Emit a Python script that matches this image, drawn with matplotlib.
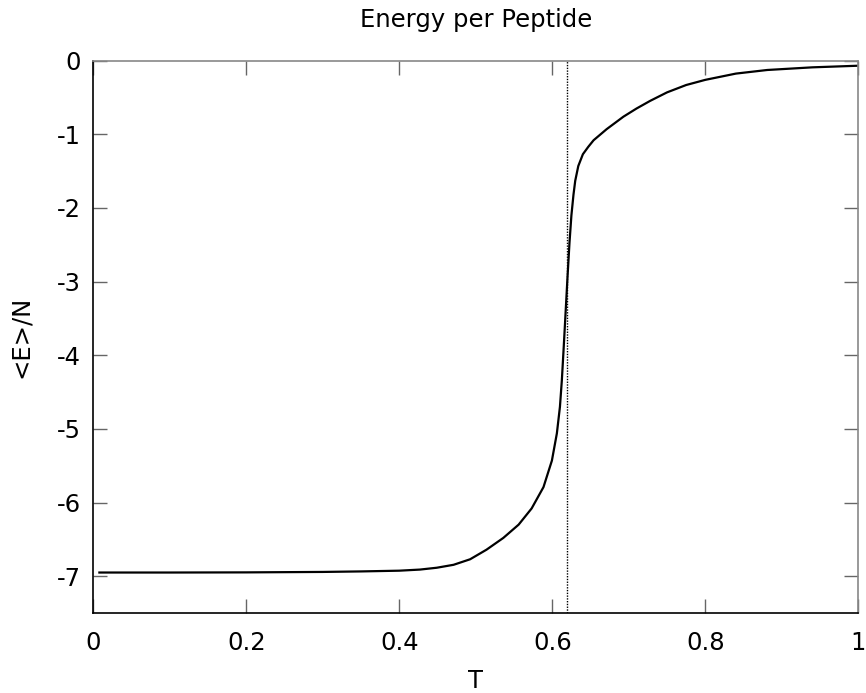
import matplotlib
matplotlib.use("Agg")
import matplotlib.pyplot as plt

# dane (T, <E>/N)
T = [0.008, 0.1, 0.2, 0.3, 0.35, 0.4, 0.427, 0.449, 0.471, 0.4926, 0.514,
     0.536, 0.556, 0.573, 0.5885, 0.5995, 0.606, 0.610, 0.6125, 0.615,
     0.6175, 0.620, 0.6225, 0.625, 0.6277, 0.630, 0.634, 0.640, 0.647, 0.654,
     0.671, 0.693, 0.71, 0.728, 0.75, 0.775, 0.80, 0.84, 0.881, 0.94, 1.0]
E = [-6.95, -6.95, -6.948, -6.942, -6.935, -6.925, -6.91, -6.885, -6.845, -6.77, -6.64,
     -6.48, -6.30, -6.08, -5.79, -5.43, -5.06, -4.70, -4.34, -3.88,
     -3.40, -2.92, -2.47, -2.10, -1.82, -1.63, -1.43, -1.27, -1.17, -1.08,
     -0.93, -0.76, -0.65, -0.545, -0.43, -0.33, -0.26, -0.175, -0.126, -0.09, -0.068]
T_c = 0.6195

xticks = [0, 0.2, 0.4, 0.6, 0.8, 1]
xticklabels = ["0", "0.2", "0.4", "0.6", "0.8", "1"]
yticks = [0, -1, -2, -3, -4, -5, -6, -7]

fig = plt.figure(figsize=(8.66, 6.93), dpi=100)
ax = fig.add_axes([0.1077, 0.1154, 0.8834, 0.797])

ax.plot(T, E, color="black", lw=1.6, solid_joinstyle="round")
ax.axvline(T_c, color="black", lw=1.0, linestyle=(0, (1, 1)))

ax.set_xlim(0, 1)
ax.set_ylim(-7.5, 0)
ax.set_xticks(xticks)
ax.set_xticklabels(xticklabels)
ax.set_yticks(yticks)
ax.set_yticklabels([str(v) for v in yticks])
ax.tick_params(direction="in", top=True, right=True, length=10, width=1,
               labelsize=17.5, pad=13, color="#666666")
ax.tick_params(axis="y", pad=9)

# gnuplot: lewa i dolna ramka czarna, górna i prawa szara
ax.spines["left"].set_color("black")
ax.spines["bottom"].set_color("black")
ax.spines["top"].set_color("#888888")
ax.spines["right"].set_color("#888888")
for s in ax.spines.values():
    s.set_linewidth(1.2)

ax.set_title("Energy per Peptide", fontsize=17.5, pad=24)
ax.set_xlabel("T", fontsize=17.5, labelpad=10)
ax.set_ylabel("<E>/N", fontsize=17.5, labelpad=17)

fig.savefig("out.png", dpi=100)
